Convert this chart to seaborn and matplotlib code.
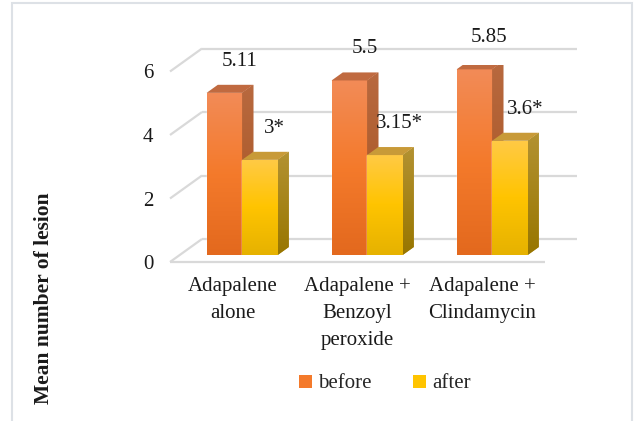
import numpy as np
import pandas as pd
import matplotlib
matplotlib.use("Agg")
import matplotlib.pyplot as plt
import seaborn as sns
from matplotlib.patches import Polygon, Patch, Rectangle
from matplotlib.colors import LinearSegmentedColormap

# ---- data ----
treatments = ["Adapalene\nalone", "Adapalene +\nBenzoyl\nperoxide", "Adapalene +\nClindamycin"]
before = [5.11, 5.5, 5.85]
after = [3.0, 3.15, 3.6]
before_labels = ["5.11", "5.5", "5.85"]
after_labels = ["3*", "3.15*", "3.6*"]
phases = ["before", "after"]
y_ticks = [0, 2, 4, 6]

df = pd.DataFrame({
    "treatment": treatments * 2,
    "phase": ["before"] * 3 + ["after"] * 3,
    "lesions": before + after,
})

sns.set_theme(style="white")
plt.rcParams["font.family"] = ["Liberation Serif", "DejaVu Serif"]
FS = 15

W, H = 634, 421
fig = plt.figure(figsize=(W / 100, H / 100), dpi=100)
fig.patch.set_facecolor("white")

# ---- oblique 3D geometry (pixels) ----
plot_w, plot_h = 375.0, 190.5          # width for 3 categories, height for 0..6
front_x0, front_y0 = 170.0, 262.0      # front floor corner (image coords)
depth = (32.0, 23.0)                   # front -> back wall offset
f_bar = 0.30                           # bar front face position in depth
f_bar_depth = 0.35                     # bar thickness in depth
XLIM, YLIM = (-0.5, 2.5), (0, 6)
ux, uy = plot_w / 3.0, plot_h / 6.0    # pixels per data unit


def axes_at(x0, y0, z):
    a = fig.add_axes([x0 / W, (H - y0) / H, plot_w / W, plot_h / H], zorder=z)
    a.patch.set_visible(False)
    for s in a.spines.values():
        s.set_visible(False)
    return a


ax_back = axes_at(front_x0 + depth[0], front_y0 - depth[1], 1)
ax_bar = axes_at(front_x0 + f_bar * depth[0], front_y0 - f_bar * depth[1], 2)
ax_front = axes_at(front_x0, front_y0, 3)

grid_c = "#d9d9d9"

# back wall gridlines
ax_back.hlines(y_ticks, XLIM[0], XLIM[1], color=grid_c, lw=1.6, clip_on=False)
ax_back.set_xticks([])
ax_back.set_yticks([])

# front floor edge and side-wall diagonals
ax_front.hlines(0, XLIM[0], XLIM[1], color=grid_c, lw=1.6, clip_on=False)
ddx, ddy = depth[0] / ux, depth[1] / uy
for v in y_ticks:
    ax_front.plot([XLIM[0], XLIM[0] + ddx], [v, v + ddy], color=grid_c, lw=1.6,
                  clip_on=False, solid_capstyle="butt")
ax_front.set_yticks(y_ticks)
ax_front.set_yticklabels([str(v) for v in y_ticks], fontsize=FS, color="#1a1a1a")
ax_front.set_xticks(range(len(treatments)))
ax_front.set_xticklabels(treatments, fontsize=FS, color="#1a1a1a", linespacing=1.55)
ax_front.tick_params(axis="y", length=0, pad=12)
ax_front.tick_params(axis="x", length=0, pad=11)

# ---- bars ----
front_cols = {"before": ("#f28b57", "#f47a2b", "#e3691e"),
              "after": ("#ffca45", "#ffc400", "#e6b200")}
side_cols = {"before": ("#b8693f", "#a6521f"),
             "after": ("#b39232", "#987600")}
top_cols = {"before": "#c06a40", "after": "#c89a38"}

sns.barplot(data=df, x="treatment", y="lesions", hue="phase", hue_order=phases,
            order=treatments, palette=[front_cols[p][1] for p in phases],
            width=0.568, saturation=1, legend=False, errorbar=None, ax=ax_bar)


def gradient_fill(ax, patch, colors, z):
    cmap = LinearSegmentedColormap.from_list("g", list(colors))
    verts = patch.get_path().vertices
    verts = patch.get_patch_transform().transform(verts) if isinstance(patch, Rectangle) else patch.get_xy()
    xmin, ymin = np.min(verts, axis=0)
    xmax, ymax = np.max(verts, axis=0)
    grad = np.linspace(1, 0, 64).reshape(-1, 1)
    im = ax.imshow(grad, extent=[xmin, xmax, ymin, ymax], origin="lower", cmap=cmap,
                   vmin=0, vmax=1, aspect="auto", zorder=z, interpolation="bilinear")
    im.set_clip_path(patch)


bdx = f_bar_depth * depth[0] / ux
bdy = f_bar_depth * depth[1] / uy

z = 3
for phase, container in zip(phases, ax_bar.containers):
    for rect in container:
        x0, w, h = rect.get_x(), rect.get_width(), rect.get_height()
        x1 = x0 + w
        rect.set_zorder(z)
        gradient_fill(ax_bar, rect, front_cols[phase], z + 0.1)
        side = Polygon([(x1, 0), (x1 + bdx, bdy), (x1 + bdx, h + bdy), (x1, h)],
                       closed=True, facecolor=side_cols[phase][0], edgecolor="none", zorder=z)
        ax_bar.add_patch(side)
        gradient_fill(ax_bar, side, side_cols[phase], z + 0.1)
        top = Polygon([(x0, h), (x1, h), (x1 + bdx, h + bdy), (x0 + bdx, h + bdy)],
                      closed=True, facecolor=top_cols[phase], edgecolor="none", zorder=z + 0.2)
        ax_bar.add_patch(top)
    z += 1

# value labels
for phase, container, labels in zip(phases, ax_bar.containers, [before_labels, after_labels]):
    for rect, lab in zip(container, labels):
        cx = rect.get_x() + rect.get_width() / 2
        ax_bar.annotate(lab, xy=(cx, rect.get_height()), xytext=(15, 27),
                        textcoords="offset pixels", ha="center", va="baseline",
                        fontsize=FS, color="#1a1a1a", zorder=10)

for a in (ax_back, ax_bar, ax_front):
    a.set_xlim(*XLIM)
    a.set_ylim(*YLIM)
ax_bar.set_xticks([])
ax_bar.set_yticks([])
ax_bar.set_xlabel("")
ax_bar.set_ylabel("")

# legend
handles = [Patch(facecolor=front_cols[p][1], edgecolor="none", label=p) for p in phases]
fig.legend(handles=handles, loc="center", bbox_to_anchor=(385 / W, 1 - 384 / H),
           ncol=2, frameon=False, fontsize=FS, handlelength=0.6, handleheight=0.6,
           handletextpad=0.3, columnspacing=2.0)

# y axis title
fig.text(44 / W, 1 - 298 / H, "Mean number of lesion", rotation=90, fontsize=15.5,
         fontweight="bold", ha="center", va="center", color="#1a1a1a")

# chart border
fig.add_artist(Rectangle((11.5 / W, -0.02), (632 - 11.5) / W, (H - 3 + 0.02 * H) / H,
                         transform=fig.transFigure, fill=False, edgecolor="#dde1e6", lw=1.5))

fig.savefig("out.png", dpi=100)
